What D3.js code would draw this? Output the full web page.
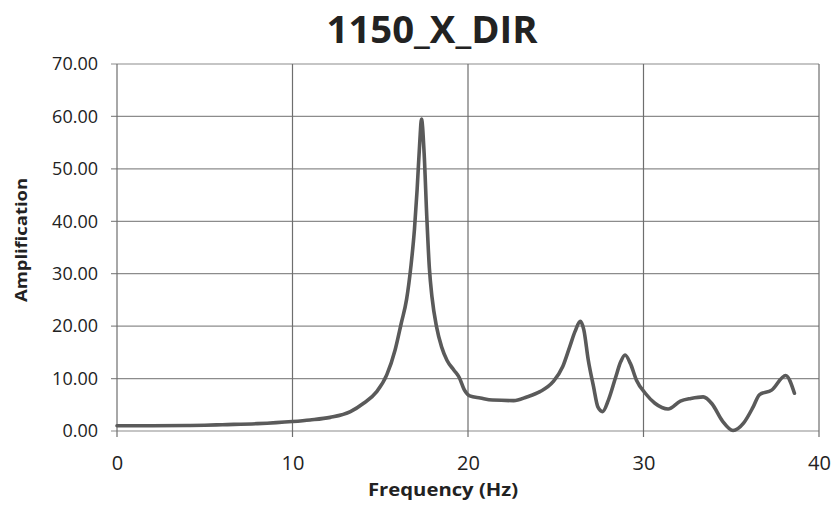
<!DOCTYPE html>
<html>
<head>
<meta charset="utf-8">
<script src="https://cdn.jsdelivr.net/npm/d3@7"></script>
<style>
  html, body { margin: 0; padding: 0; background: #fff; }
  svg text { font-family: "Open Sans", "Noto Sans", sans-serif; fill: #222; }
</style>
</head>
<body>
<div id="chart"></div>
<script>
// 1150_X_DIR - amplificacion vs frecuencia
const chartTitle = '1150_X_DIR';
const xTitle = 'Frequency (Hz)';
const yTitle = 'Amplification';

const xTicks = [0, 10, 20, 30, 40];
const yTicks = [0, 10, 20, 30, 40, 50, 60, 70];

// puntos
const freq = [0, 2, 4, 5, 6, 8, 10, 11, 12.15, 13.3, 14.05, 14.8, 15.37, 15.85, 16.2, 16.5, 16.75, 16.95,
  17.1, 17.25, 17.35, 17.5, 17.65, 17.8, 17.95, 18.2, 18.5, 18.8, 19.2, 19.5, 19.8, 20.1, 20.7, 21.4, 22.6, 23.35,
  24.1, 24.85, 25.4, 25.8, 26.1, 26.4, 26.6, 26.85, 27.15, 27.4, 27.67, 28.0, 28.4, 28.7, 28.95, 29.25,
  29.6, 30.1, 30.65, 31.4, 32.1, 32.7, 33.4, 33.9, 34.5, 35.1, 35.7, 36.25, 36.6, 37.3, 38.1, 38.6];
const amp = [1.0, 1.0, 1.05, 1.1, 1.2, 1.4, 1.8, 2.1, 2.6, 3.7, 5.3, 7.5, 10.7, 15.5, 20.6, 25.1, 31.5, 38.5,
  46, 55, 59.5, 53, 41, 31, 25.5, 20.0, 16.0, 13.5, 11.6, 10.2, 7.8, 6.7, 6.3, 5.9, 5.8, 6.5,
  7.5, 9.4, 12.3, 16.1, 19.0, 20.9, 19.3, 13.6, 8.5, 4.6, 3.7, 5.9, 10.1, 13.2, 14.5, 12.9,
  9.7, 7.2, 5.3, 4.2, 5.7, 6.2, 6.5, 5.2, 1.9, 0.1, 1.5, 4.6, 6.9, 7.8, 10.6, 7.2];

const width = 836, height = 507;
const margin = { top: 64, right: 17, bottom: 76, left: 117 };

const svg = d3.select('#chart').append('svg').attr('width', width).attr('height', height);

const x = d3.scaleLinear().domain([0, 40]).range([margin.left, width - margin.right]);
const y = d3.scaleLinear().domain([0, 70]).range([height - margin.bottom, margin.top]);

// rejilla
svg.append('g').selectAll('line').data(yTicks).enter().append('line')
  .attr('x1', x(0) - 6).attr('x2', x(40))
  .attr('y1', d => y(d)).attr('y2', d => y(d))
  .attr('stroke', '#8c8c8c').attr('stroke-width', 1.2);

svg.append('g').selectAll('line').data(xTicks).enter().append('line')
  .attr('x1', d => x(d)).attr('x2', d => x(d))
  .attr('y1', y(70)).attr('y2', y(0) + 6)
  .attr('stroke', '#6e6e6e').attr('stroke-width', 1.2);

// ejes con d3.axis, solo para las etiquetas
const yAxis = svg.append('g').attr('transform', `translate(${x(0)},0)`)
  .call(d3.axisLeft(y).tickValues(yTicks).tickFormat(d3.format('.2f')).tickSize(0).tickPadding(19));
yAxis.selectAll('text').attr('font-size', 18);
const xAxis = svg.append('g').attr('transform', `translate(0,${y(0)})`)
  .call(d3.axisBottom(x).tickValues(xTicks).tickSize(0).tickPadding(25));
xAxis.selectAll('text').attr('font-size', 20);
[yAxis, xAxis].forEach(a => {
  a.select('.domain').remove();
  a.selectAll('text').attr('font-family', '"Open Sans", sans-serif').attr('fill', '#333');
});

// curva
const pts = freq.map((f, i) => [f, amp[i]]);
svg.append('path').datum(pts)
  .attr('fill', 'none').attr('stroke', '#5a5a5a').attr('stroke-width', 3.6)
  .attr('stroke-linejoin', 'round').attr('stroke-linecap', 'round')
  .attr('d', d3.line().x(d => x(d[0])).y(d => y(d[1])).curve(d3.curveMonotoneX));

// titulos
svg.append('text').attr('x', 432).attr('y', 43).attr('text-anchor', 'middle')
  .attr('font-size', 37).attr('font-weight', 'bold')
  .attr('textLength', 211).attr('lengthAdjust', 'spacingAndGlyphs').text(chartTitle);

svg.append('text').attr('x', 443).attr('y', 496).attr('text-anchor', 'middle')
  .attr('font-size', 18).attr('font-weight', 'bold')
  .attr('textLength', 150).attr('lengthAdjust', 'spacingAndGlyphs').text(xTitle);

svg.append('text').attr('transform', 'translate(27,240) rotate(-90)').attr('text-anchor', 'middle')
  .attr('font-size', 16).attr('font-weight', 'bold')
  .attr('textLength', 124).attr('lengthAdjust', 'spacingAndGlyphs').text(yTitle);
</script>
</body>
</html>
